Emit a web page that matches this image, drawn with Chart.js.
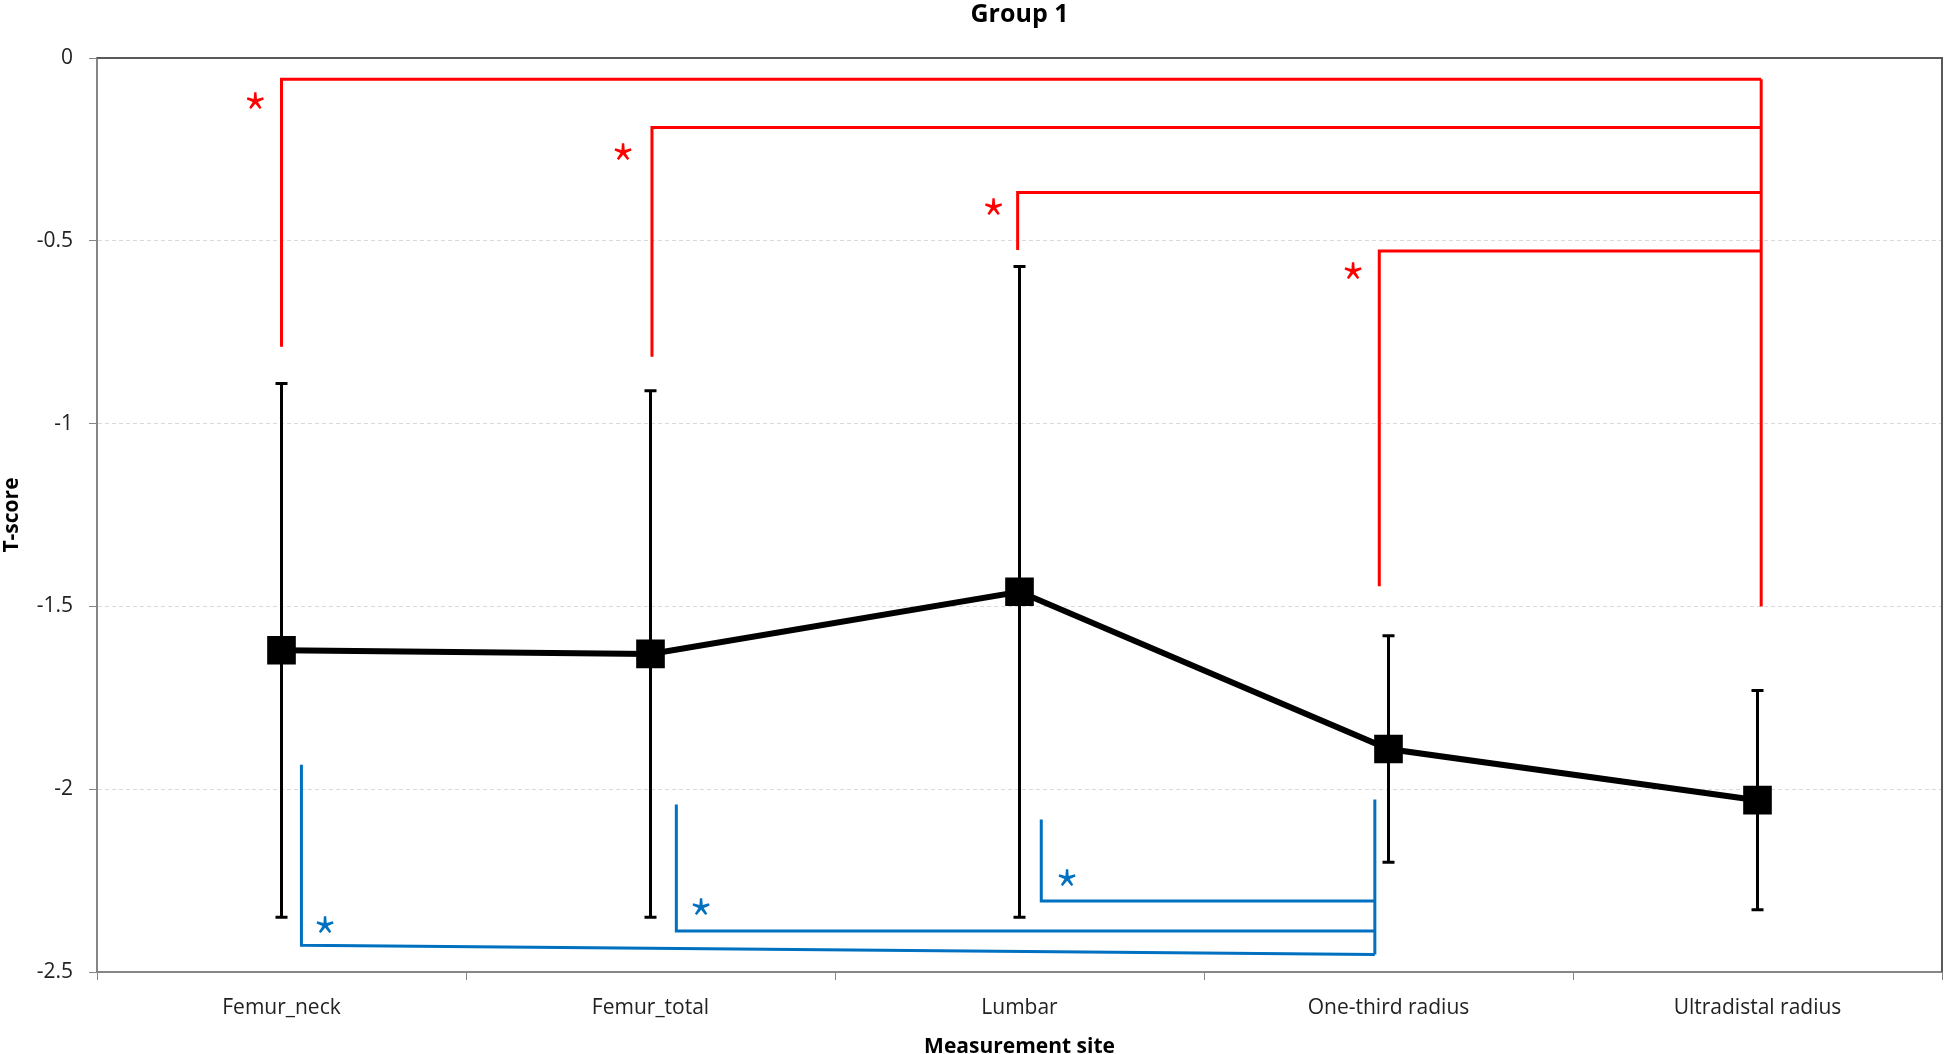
<!DOCTYPE html>
<html>
<head>
<meta charset="utf-8">
<script src="https://cdn.jsdelivr.net/npm/chart.js@4.4.0/dist/chart.umd.min.js"></script>
<style>
  body { margin: 0; background: #fff; }
  #wrap { width: 1944px; height: 1054px; }
</style>
</head>
<body>
<div id="wrap"><canvas id="tscoreChart"></canvas></div>
<script>
const sites = ["Femur_neck", "Femur_total", "Lumbar", "One-third radius", "Ultradistal radius"];
const meanT = [-1.62, -1.63, -1.46, -1.89, -2.03];
const sdT = [0.73, 0.72, 0.89, 0.31, 0.30];
const yTicks = [0, -0.5, -1, -1.5, -2, -2.5];

// red brackets: each site vs Ultradistal radius
const redLegX = [0, 1.004, 1.995, 2.975];
const redLegBottom = [-0.79, -0.817, -0.525, -1.445];
const redTop = [-0.058, -0.19, -0.368, -0.528];
const redSpineX = 4.01;
const redSpineBottom = -1.5;
const redStarX = [-0.071, 0.926, 1.93, 2.904];
const redStarY = [-0.115, -0.256, -0.406, -0.581];

// blue brackets: each site vs One-third radius
const blueLegX = [0.054, 1.07, 2.059];
const blueLegTop = [-1.933, -2.042, -2.083];
const blueLeftY = [-2.427, -2.388, -2.306];
const blueRightY = [-2.452, -2.388, -2.306];
const blueSpineX = 2.963;
const blueSpineTop = -2.028;
const blueStarX = [0.118, 1.137, 2.129];
const blueStarY = [-2.37, -2.32, -2.242];

const FONT = "'Open Sans', 'Noto Sans', sans-serif";
const STAR_FONT = "'Noto Sans CJK KR', 'Open Sans', sans-serif";
const RED = "#ff0000";
const BLUE = "#0070c0";

function bracketSet(points, color) {
  return {
    type: "line",
    data: points,
    borderColor: color,
    borderWidth: 3,
    pointRadius: 0,
    fill: false,
    tension: 0,
    borderJoinStyle: "miter",
    borderCapStyle: "butt",
  };
}

const datasets = [];
datasets.push({
  type: "line",
  label: "T-score",
  data: meanT.map((m, i) => ({ x: i, y: m })),
  borderColor: "#000",
  borderWidth: 6,
  pointStyle: "rect",
  pointRadius: 16,
  pointBackgroundColor: "#000",
  pointBorderColor: "#000",
  tension: 0,
  fill: false,
});

redLegX.forEach((lx, i) => {
  datasets.push(bracketSet([
    { x: lx, y: redLegBottom[i] },
    { x: lx, y: redTop[i] },
    { x: redSpineX, y: redTop[i] },
  ], RED));
});
datasets.push(bracketSet([
  { x: redSpineX, y: redTop[0] },
  { x: redSpineX, y: redSpineBottom },
], RED));

blueLegX.forEach((lx, i) => {
  datasets.push(bracketSet([
    { x: lx, y: blueLegTop[i] },
    { x: lx, y: blueLeftY[i] },
    { x: blueSpineX, y: blueRightY[i] },
  ], BLUE));
});
datasets.push(bracketSet([
  { x: blueSpineX, y: blueSpineTop },
  { x: blueSpineX, y: blueRightY[0] },
], BLUE));

// SD error bars under the mean line
const errorBars = {
  id: "errorBars",
  beforeDatasetsDraw(chart) {
    const { ctx, scales: { x, y } } = chart;
    ctx.save();
    ctx.strokeStyle = "#000";
    ctx.lineWidth = 3;
    meanT.forEach((m, i) => {
      const px = x.getPixelForValue(i);
      const top = y.getPixelForValue(m + sdT[i]);
      const bot = y.getPixelForValue(m - sdT[i]);
      ctx.beginPath();
      ctx.moveTo(px, top);
      ctx.lineTo(px, bot);
      ctx.moveTo(px - 6, top);
      ctx.lineTo(px + 6, top);
      ctx.moveTo(px - 6, bot);
      ctx.lineTo(px + 6, bot);
      ctx.stroke();
    });
    ctx.restore();
  },
};

// asterisks next to the brackets
const stars = {
  id: "stars",
  afterDatasetsDraw(chart) {
    const { ctx, scales: { x, y } } = chart;
    ctx.save();
    ctx.font = "300 58px " + STAR_FONT;
    ctx.textAlign = "center";
    ctx.textBaseline = "alphabetic";
    const m = ctx.measureText("*");
    const shift = (m.actualBoundingBoxAscent - m.actualBoundingBoxDescent) / 2;
    const draw = (xs, ys, color) => {
      ctx.fillStyle = color;
      xs.forEach((v, i) => {
        ctx.fillText("*", x.getPixelForValue(v), y.getPixelForValue(ys[i]) + shift);
      });
    };
    draw(redStarX, redStarY, RED);
    draw(blueStarX, blueStarY, BLUE);
    ctx.restore();
  },
};

// top and right edges of the plot box
const frame = {
  id: "frame",
  beforeDatasetsDraw(chart) {
    const { ctx, chartArea: a } = chart;
    ctx.save();
    ctx.strokeStyle = "#595959";
    ctx.lineWidth = 2;
    ctx.beginPath();
    ctx.moveTo(a.left, a.top);
    ctx.lineTo(a.right, a.top);
    ctx.lineTo(a.right, a.bottom);
    ctx.stroke();
    ctx.restore();
  },
};

const ctx = document.getElementById("tscoreChart").getContext("2d");
new Chart(ctx, {
  type: "line",
  data: { datasets: datasets },
  plugins: [frame, errorBars, stars],
  options: {
    responsive: true,
    maintainAspectRatio: false,
    animation: false,
    layout: { autoPadding: false, padding: { left: 0, right: 2, top: 0, bottom: 0 } },
    plugins: {
      legend: { display: false },
      tooltip: { enabled: false },
      title: {
        display: true,
        fullSize: false,
        text: "Group 1",
        color: "#000",
        font: { family: FONT, size: 25, weight: "bold", lineHeight: 1.1 },
        padding: { top: 1, bottom: 29.5 },
      },
    },
    scales: {
      x: {
        type: "linear",
        min: -0.5,
        max: 4.5,
        afterBuildTicks: (scale) => {
          const t = [];
          for (let i = -1; i <= 9; i++) t.push({ value: i / 2 });
          scale.ticks = t;
        },
        afterFit: (scale) => {
          scale.height = 82;
          scale.paddingLeft = 0;
          scale.paddingRight = 0;
        },
        ticks: {
          autoSkip: false,
          maxRotation: 0,
          padding: 15,
          color: "#222",
          font: { family: FONT, size: 21 },
          callback: (v) => (Number.isInteger(v) ? sites[v] : ""),
        },
        grid: {
          drawOnChartArea: false,
          tickLength: 8,
          tickWidth: 1,
          tickColor: (c) => (c.tick && Number.isInteger(c.tick.value) ? "rgba(0,0,0,0)" : "#868686"),
        },
        border: { color: "#868686", width: 2 },
        title: {
          display: true,
          text: "Measurement site",
          color: "#000",
          font: { family: FONT, size: 21, weight: "bold", lineHeight: 0.65 },
          padding: 0,
        },
      },
      y: {
        min: -2.5,
        max: 0,
        afterBuildTicks: (scale) => { scale.ticks = yTicks.map((v) => ({ value: v })); },
        afterFit: (scale) => { scale.width = 97; },
        ticks: {
          padding: 16,
          color: "#222",
          font: { family: FONT, size: 21 },
          callback: (v) => String(v),
        },
        grid: {
          color: (c) => (c.tick && (c.tick.value === 0 || c.tick.value === -2.5) ? "rgba(0,0,0,0)" : "#d9d9d9"),
          lineWidth: 1,
          tickLength: 8,
          tickColor: "#868686",
        },
        border: { color: "#868686", width: 2, dash: [4, 3] },
        title: {
          display: true,
          text: "T-score",
          color: "#000",
          font: { family: FONT, size: 21, weight: "bold", lineHeight: 1.15 },
          padding: 0,
        },
      },
    },
  },
});
</script>
</body>
</html>
